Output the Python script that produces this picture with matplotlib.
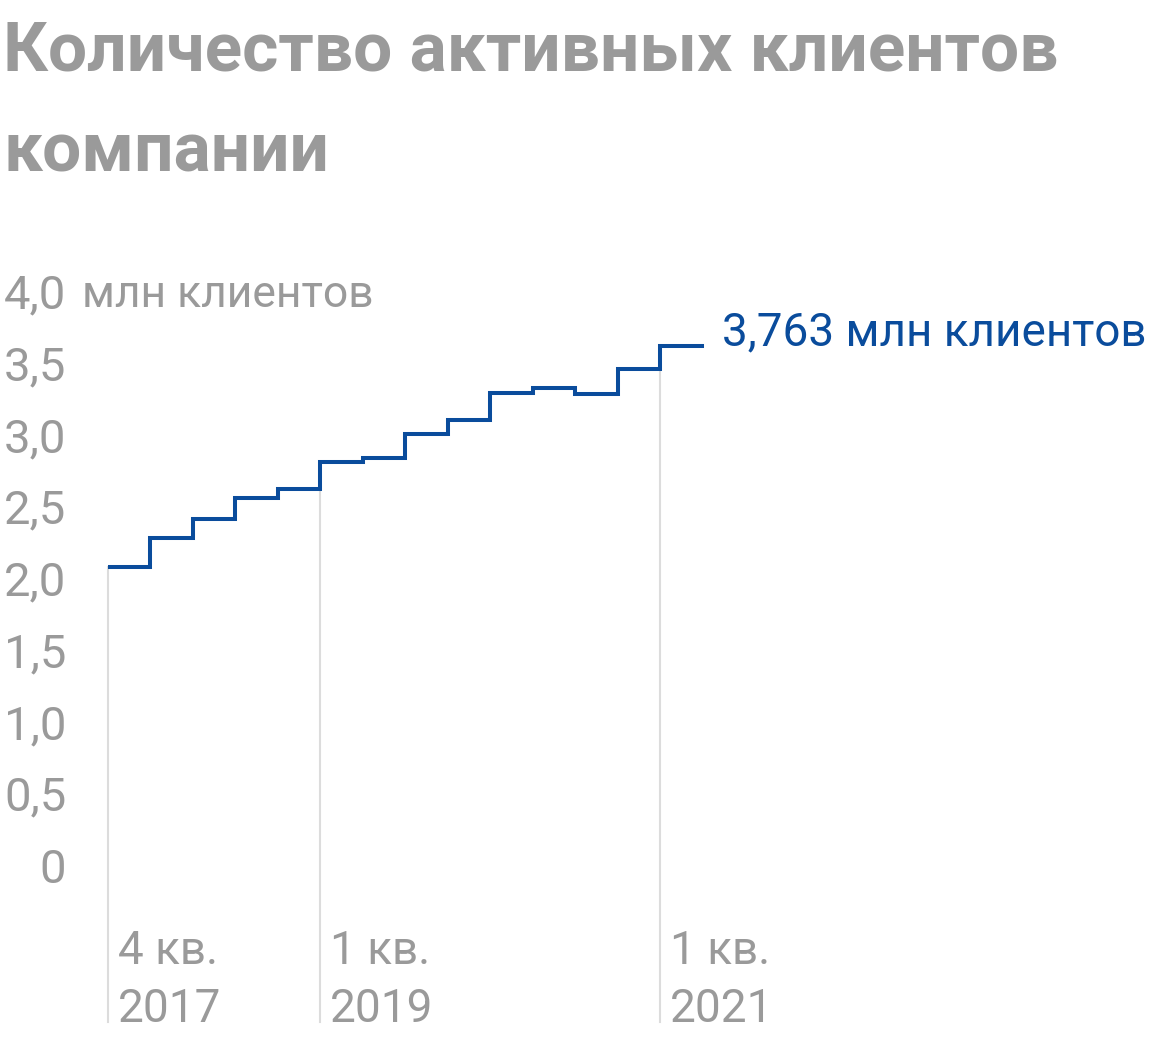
import matplotlib
matplotlib.use("Agg")
import matplotlib.pyplot as plt
import numpy as np

plt.rcParams["font.family"] = ["Roboto", "DejaVu Sans"]

# quarterly active clients, mln (4 кв. 2017 .. 1 кв. 2021)
quarters = ["4 кв. 2017", "1 кв. 2018", "2 кв. 2018", "3 кв. 2018",
            "4 кв. 2018", "1 кв. 2019", "2 кв. 2019", "3 кв. 2019",
            "4 кв. 2019", "1 кв. 2020", "2 кв. 2020", "3 кв. 2020",
            "4 кв. 2020", "1 кв. 2021"]
clients = [2.08, 2.28, 2.41, 2.56, 2.62, 2.81, 2.835, 3.00,
           3.10, 3.286, 3.325, 3.28, 3.455, 3.62]
ytick_vals = [0, 0.5, 1.0, 1.5, 2.0, 2.5, 3.0, 3.5, 4.0]
ytick_text = ["0", "0,5", "1,0", "1,5", "2,0", "2,5", "3,0", "3,5", "4,0"]
xlabel_idx = [0, 5, 13]
xlabel_text = ["4 кв.\n2017", "1 кв.\n2019", "1 кв.\n2021"]
last_label = "3,763 млн клиентов"
title = "Количество активных клиентов\nкомпании"

gray = "#9a9a9a"
blue = "#0a4c9c"
grid = "#dcdcdc"

W, H = 1160, 1040
fig = plt.figure(figsize=(W / 100, H / 100), dpi=100)
ax = fig.add_axes([108 / W, 18 / H, 1 - 108 / W, (1022 - 200) / H])
ax.set_xlim(0, (W - 108) / 42.46)
ax.set_ylim(-1.094, 4.634)
for s in ax.spines.values():
    s.set_visible(False)

x = np.arange(len(clients) + 1)
y = clients + [clients[-1]]
ax.step(x, y, where="post", color=blue, lw=2.9, solid_joinstyle="miter", zorder=3)

ymin = ax.get_ylim()[0]
for i in xlabel_idx:
    ax.plot([i, i], [ymin, clients[i]], color=grid, lw=1.5, clip_on=False, zorder=1)

ax.set_yticks(ytick_vals)
ax.set_yticklabels(ytick_text)
ax.tick_params(axis="y", length=0, pad=30, labelsize=34, labelcolor=gray)
ax.set_xticks([])

for i, t in zip(xlabel_idx, xlabel_text):
    ax.annotate(t, xy=(i, ymin), xytext=(7, 0), textcoords="offset points",
                ha="left", va="baseline", fontsize=33, color=gray, linespacing=1.4)

ax.annotate("млн клиентов", xy=(0, 4.0), xytext=(-19, 0), textcoords="offset points",
            ha="left", va="center_baseline", fontsize=32, color=gray)

ax.annotate(last_label, xy=(len(clients), clients[-1]), xytext=(14, 0),
            textcoords="offset points", ha="left", va="baseline",
            fontsize=33, color=blue)

fig.text(3 / W, 1 - 172 / H, title, ha="left", va="baseline", fontsize=50,
         fontweight="bold", color=gray, linespacing=1.72)

fig.savefig("out.png", dpi=100)
